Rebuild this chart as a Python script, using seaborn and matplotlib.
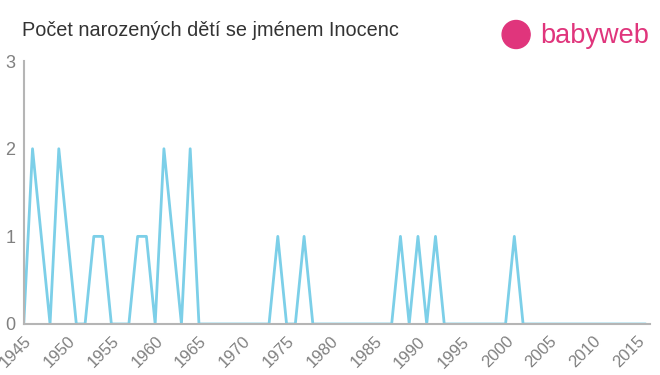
import matplotlib
matplotlib.use("Agg")
import matplotlib.pyplot as plt
import seaborn as sns
import pandas as pd
from matplotlib.patches import Circle

years = list(range(1945, 2017))
counts = [0, 2, 1, 0, 2, 1, 0, 0, 1, 1,   # 1945-1954
          0, 0, 0, 1, 1, 0, 2, 1, 0, 2,   # 1955-1964
          0, 0, 0, 0, 0, 0, 0, 0, 0, 1,   # 1965-1974
          0, 0, 1, 0, 0, 0, 0, 0, 0, 0,   # 1975-1984
          0, 0, 0, 1, 0, 1, 0, 1, 0, 0,   # 1985-1994
          0, 0, 0, 0, 0, 0, 1, 0, 0, 0,   # 1995-2004
          0, 0, 0, 0, 0, 0, 0, 0, 0, 0,   # 2005-2014
          0, 0]                            # 2015-2016
xticks = list(range(1945, 2020, 5))
yticks = [0, 1, 2, 3]
title = "Počet narozených dětí se jménem Inocenc"

df = pd.DataFrame({"year": years, "count": counts})

sns.set_style("white")
plt.rcParams["font.family"] = ["Liberation Sans", "DejaVu Sans"]

fig = plt.figure(figsize=(6.6, 3.75), dpi=100)
ax = fig.add_axes([0.036, 0.136, 0.949, 0.701])
sns.lineplot(data=df, x="year", y="count", ax=ax, color="#7ccfe8", linewidth=2)

gray = "#b5b5b5"
ax.set_xlim(1945, 2016.5)
ax.set_ylim(0, 3)
ax.set_xticks(xticks)
ax.set_xticklabels([str(t) for t in xticks], rotation=45, ha="right",
                   rotation_mode="anchor", color="#808080", fontsize=12)
ax.set_yticks(yticks)
ax.set_yticklabels([str(t) for t in yticks], color="#808080", fontsize=13)
ax.tick_params(axis="x", length=5, color=gray, width=1.2, pad=2)
ax.tick_params(axis="y", length=0, pad=6)
ax.set_xlabel("")
ax.set_ylabel("")
for s in ["top", "right"]:
    ax.spines[s].set_visible(False)
for s in ["left", "bottom"]:
    ax.spines[s].set_color(gray)
    ax.spines[s].set_linewidth(1.5)
ax.grid(False)

fig.text(0.033, 0.918, title, fontsize=14.3, color="#333333", va="center")

pink = "#e0357c"
fig.text(0.818, 0.905, "babyweb", fontsize=19.5, color=pink, va="center", ha="left")
fig.patches.append(Circle((0.782 * 660, 0.908 * 375), 14, transform=None,
                          color=pink, figure=fig))

fig.savefig("out.png", dpi=100)
